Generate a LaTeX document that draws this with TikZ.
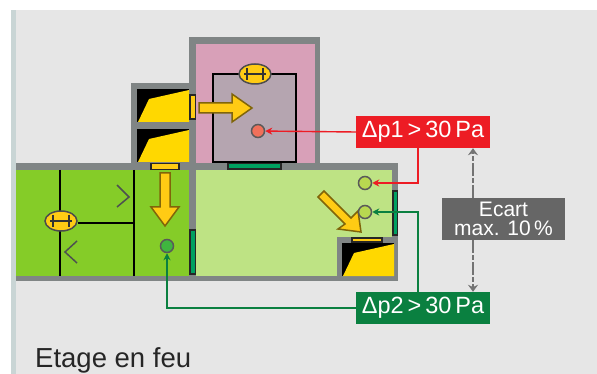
\documentclass[tikz,border=0pt]{standalone}
\usepackage{fontspec}
\setmainfont{Liberation Sans}
\usetikzlibrary{arrows.meta,calc,shapes.geometric}
\definecolor{wallgray}{HTML}{808585}
\definecolor{backgray}{HTML}{E6E6E6}
\definecolor{stripgray}{HTML}{C9D5D5}
\definecolor{pinkroom}{HTML}{D8A0B8}
\definecolor{liftgray}{HTML}{B5A5B0}
\definecolor{leftgreen}{HTML}{85CC28}
\definecolor{rightgreen}{HTML}{BEE384}
\definecolor{fangold}{HTML}{FFD800}
\definecolor{arrowgold}{HTML}{FFCB14}
\definecolor{doorgreen}{HTML}{00A060}
\definecolor{redbox}{HTML}{ED1C24}
\definecolor{greenbox}{HTML}{0A8040}
\definecolor{sensorred}{HTML}{F0705A}
\definecolor{sensorgreen}{HTML}{3FB53F}
\definecolor{sensorlime}{HTML}{B8D850}
\tikzset{
	door/.style={draw=black!85,line width=1.5pt,fill=#1},
	damper/.style={draw=black!70,line width=1.5pt,fill=arrowgold,ellipse,minimum width=32pt,minimum height=20pt,inner sep=0pt},
	flow/.style={draw=black!50!arrowgold,line width=1.5pt,fill=arrowgold,line join=miter},
	sensor/.style={circle,draw=black!65,line width=1.5pt,minimum size=13pt,inner sep=0pt,fill=#1},
	pressure/.style={fill=#1,text=white,font=\fontsize{23.5}{23.5}\selectfont,minimum width=134pt,minimum height=32pt,inner sep=0pt},
	tube/.style={line width=1.4pt,-{Stealth[length=7pt,width=7pt]}},
	gap/.style={draw=black!55,line width=1.4pt,dash pattern=on 13pt off 2pt on 5pt off 2pt,-{Stealth[length=7pt,width=10pt]}},
}
\newcommand{\fanbox}[2]{
	\fill[black] (#1,#2) rectangle ++(52,33);
	\fill[fangold] ($ (#1,#2) + (1,33) $) -- ++(11,-23) -- ++(40,-9) -- ++(0,32) -- cycle;
}
\begin{document}
\begin{tikzpicture}[x=1pt,y=-1pt]
\useasboundingbox (0,0) rectangle (597,374);
\fill[white] (0,0) rectangle (597,374);
\fill[backgray] (11,10) rectangle (597,374);
\fill[stripgray] (11,10) rectangle (16,374);
\fill[wallgray] (189,37) rectangle (320,170);
\fill[wallgray] (131,83) rectangle (196,170);
\fill[wallgray] (16,163) rectangle (398,281);
\fill[pinkroom] (196,44) rectangle (315,163);
\fill[leftgreen] (16,170) rectangle (189,276);
\fill[rightgreen] (196,170) rectangle (392,276);
\fill[wallgray] (337,237) rectangle (398,281);
\draw[black,line width=1.5pt,fill=liftgray] (213,74) rectangle (296,162);
\fanbox{137}{89}
\fanbox{137}{129}
\fanbox{342}{243}
\draw[door=arrowgold] (190,95) rectangle (195.5,119);
\draw[door=arrowgold] (151,163.5) rectangle (179,169.5);
\draw[door=arrowgold] (352,238) rectangle (382,242);
\draw[door=doorgreen] (228,163.5) rectangle (281,169);
\draw[door=doorgreen] (190,230) rectangle (195.5,274);
\draw[door=doorgreen] (393,191) rectangle (397.5,235);
\foreach \x in {60,134} {
	\draw[black,line width=1.5pt] (\x,170) -- (\x,276);
}
\node[damper] (damperleft) at (61,221) {};
\node[damper] (damperlift) at (255,74) {};
\draw[black,line width=1.5pt] (damperleft.east) ++(0,2) -- (134,223);
\foreach \d in {damperleft,damperlift} {
	\draw[black!80,line width=1.5pt] (\d.center) ++(-8,-6) -- ++(0,12);
	\draw[black!80,line width=1.5pt] (\d.center) ++(8,-6) -- ++(0,12);
	\draw[black!80,line width=1.5pt] (\d.center) ++(-11,0) -- ++(22,0);
}
\draw[wallgray!60!black,line width=1.5pt] (117,185) -- (129,197) -- (117,207);
\draw[wallgray!60!black,line width=1.5pt] (77,241) -- (65,252) -- (77,263);
\draw[flow] (199,103) -- (232,103) -- (232,94) -- (252,108) -- (232,122) -- (232,113) -- (199,113) -- cycle;
\draw[flow] (160,173) -- (170,173) -- (170,207) -- (179,207) -- (165,226) -- (151,207) -- (160,207) -- cycle;
\draw[flow] (324,191) -- (351,218) -- (358,211) -- (361,232) -- (338,229) -- (345,224) -- (318,197) -- cycle;
\node[sensor=sensorred] (sensorlift) at (258,131) {};
\node[sensor=sensorgreen] (sensorleft) at (167,246) {};
\node[sensor=sensorlime] (sensorup) at (365,183) {};
\node[sensor=sensorlime] (sensordown) at (365,212) {};
\node[pressure=redbox] (dpone) at (423,132) {Δp1\,>\,30\,Pa};
\node[pressure=greenbox] (dptwo) at (423,308) {Δp2\,>\,30\,Pa};
\node[fill=black!60,text=white,font=\fontsize{21}{19}\selectfont,align=center,minimum width=123pt,minimum height=42pt,inner sep=0pt] (ecart) at (503.5,219) {Ecart\\max. 10\,\%};
\node[anchor=base west,font=\fontsize{27.5}{27.5}\selectfont,text=black!85,inner sep=0pt] (title) at (35,367) {Etage en feu};
\draw[tube,redbox] (dpone.west) -- (sensorlift);
\draw[tube,redbox] (dpone.south -| 418,148) -- (418,183) -- (sensorup);
\draw[tube,greenbox] (dptwo.north -| 418,292) -- (418,212) -- (sensordown);
\draw[tube,greenbox] (dptwo.west) -- (167,308) -- (sensorleft);
\draw[gap] (ecart.north -| 473,198) -- (dpone.south -| 473,148);
\draw[gap] (ecart.south -| 473,240) -- (dptwo.north -| 473,292);
\end{tikzpicture}
\end{document}
